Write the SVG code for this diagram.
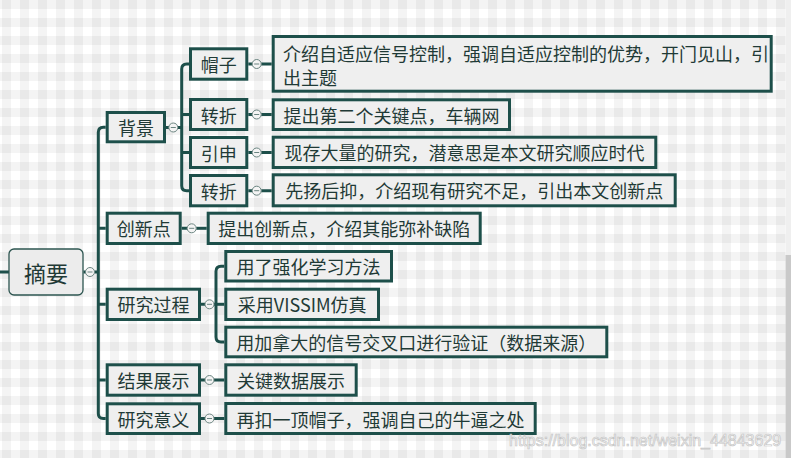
<svg xmlns="http://www.w3.org/2000/svg" width="791" height="458" viewBox="0 0 791 458">
<defs>
<pattern id="bg" patternUnits="userSpaceOnUse" x="2" y="0" width="18" height="18">
<rect width="18" height="18" fill="#ffffff"/>
<rect x="0" y="0" width="9" height="18" fill="#000" fill-opacity="0.045"/>
<rect x="0" y="0" width="18" height="9" fill="#000" fill-opacity="0.045"/>
</pattern>
</defs>
<style>
.box{fill:#efefef;stroke:#1d4f4a;stroke-width:3}
.root{fill:#ececec;stroke:#2d5550;stroke-width:1.3}
.t{font-family:"Noto Sans CJK SC","Microsoft YaHei",sans-serif;font-size:18px;fill:#1f3a36;text-anchor:middle;dominant-baseline:central}
.tl{text-anchor:start}
.c{fill:none;stroke:#1d4f4a;stroke-width:3}
.tg circle{fill:#f4f4f4;stroke:#6b8581;stroke-width:1}
.tg path{stroke:#6b8581;stroke-width:1}
</style>
<rect width="791" height="458" fill="url(#bg)"/>
<rect x="785.5" y="0" width="5.5" height="255" fill="#efefef"/>
<rect x="785.5" y="255" width="5.5" height="203" fill="#c9c9c9"/>

<g id="connectors">
<path class="c" d="M0,272 H9"/>
<path class="c" d="M83.5,272 H86"/>
<path class="c" d="M94.5,272 H98.3"/>
<path class="c" d="M105.7,127.2 H103.3 Q98.3,127.2 98.3,132.2 V413.5 Q98.3,418.5 103.3,418.5 H105.7"/>
<path class="c" d="M98.3,228.3 H105.7 M98.3,304.3 H105.7 M98.3,380 H105.7"/>
<path class="c" d="M166,127.5 H169 M181.7,228.3 H187.2 M201,304.3 H205 M201,380 H205 M201,418.5 H205"/>
<path class="c" d="M177.8,127.5 H181.7"/>
<path class="c" d="M189,64 H186.7 Q181.7,64 181.7,69 V185.7 Q181.7,190.7 186.7,190.7 H189"/>
<path class="c" d="M181.7,114.5 H189 M181.7,152.5 H189"/>
<path class="c" d="M248.3,64 H252.2 M248.3,114.5 H252.2 M248.3,152.5 H252.2 M248.3,190.7 H252.2"/>
<path class="c" d="M261.2,64 H271.7 M261.2,114.5 H271.7 M261.2,152.5 H271.7 M261.2,190.7 H271.7"/>
<path class="c" d="M196.2,228.3 H206.7"/>
<path class="c" d="M214,304.3 H224.3"/>
<path class="c" d="M224.3,266.3 H221 Q216,266.3 216,271.3 V337 Q216,342 221,342 H224.3"/>
<path class="c" d="M214,380 H224.3 M214,418.5 H224.3"/>
</g>

<g id="toggles" class="tg">
<circle cx="90" cy="272" r="4.5"/><path d="M87.5,272 H92.5"/>
<circle cx="173.3" cy="127.5" r="4.5"/><path d="M170.8,127.5 H175.8"/>
<circle cx="191.7" cy="228.3" r="4.5"/><path d="M189.2,228.3 H194.2"/>
<circle cx="209.5" cy="304.3" r="4.5"/><path d="M207,304.3 H212"/>
<circle cx="209.5" cy="380" r="4.5"/><path d="M207,380 H212"/>
<circle cx="209.5" cy="418.5" r="4.5"/><path d="M207,418.5 H212"/>
<circle cx="256.7" cy="64" r="4.5"/><path d="M254.2,64 H259.2"/>
<circle cx="256.7" cy="114.5" r="4.5"/><path d="M254.2,114.5 H259.2"/>
<circle cx="256.7" cy="152.5" r="4.5"/><path d="M254.2,152.5 H259.2"/>
<circle cx="256.7" cy="190.7" r="4.5"/><path d="M254.2,190.7 H259.2"/>
</g>

<g id="root"><rect class="root" x="9" y="249" width="74" height="46" rx="5"/><text class="t" x="46" y="272" style="font-size:22px">摘要</text></g>

<g id="n-beijing"><rect class="box" x="107.2" y="112.5" width="57.3" height="29.3"/><text class="t" x="135.9" y="127.2">背景</text></g>
<g id="n-chuangxin"><rect class="box" x="107.2" y="213.2" width="73" height="30.3"/><text class="t" x="143.7" y="228.3">创新点</text></g>
<g id="n-guocheng"><rect class="box" x="107.2" y="289.2" width="92.3" height="30.3"/><text class="t" x="153.4" y="304.3">研究过程</text></g>
<g id="n-jieguo"><rect class="box" x="107.2" y="364.8" width="92.3" height="30.4"/><text class="t" x="153.4" y="380">结果展示</text></g>
<g id="n-yiyi"><rect class="box" x="107.2" y="403.8" width="92.3" height="29.7"/><text class="t" x="153.4" y="418.6">研究意义</text></g>

<g id="n-maozi"><rect class="box" x="190.5" y="48.8" width="56.3" height="30.4"/><text class="t" x="218.7" y="64">帽子</text></g>
<g id="n-zhuanzhe1"><rect class="box" x="190.5" y="99.5" width="56.3" height="30"/><text class="t" x="218.7" y="114.5">转折</text></g>
<g id="n-yinshen"><rect class="box" x="190.5" y="137.5" width="56.3" height="30"/><text class="t" x="218.7" y="152.5">引申</text></g>
<g id="n-zhuanzhe2"><rect class="box" x="190.5" y="175.5" width="56.3" height="30.3"/><text class="t" x="218.7" y="190.7">转折</text></g>

<g id="c-maozi"><rect class="box" x="273.2" y="36.5" width="498" height="54.7"/><text class="t tl" x="283" y="52.5">介绍自适应信号控制，强调自适应控制的优势，开门见山，引</text><text class="t tl" x="283" y="76.5">出主题</text></g>
<g id="c-zhuanzhe1"><rect class="box" x="273.2" y="99.8" width="236.3" height="29.7"/><text class="t" x="391.4" y="114.7">提出第二个关键点，车辆网</text></g>
<g id="c-yinshen"><rect class="box" x="273.2" y="137.2" width="382.6" height="30.3"/><text class="t" x="464.5" y="152.4">现存大量的研究，潜意思是本文研究顺应时代</text></g>
<g id="c-zhuanzhe2"><rect class="box" x="273.2" y="174.8" width="402" height="31"/><text class="t" x="474.2" y="190.3">先扬后抑，介绍现有研究不足，引出本文创新点</text></g>
<g id="c-chuangxin"><rect class="box" x="208.2" y="213.2" width="272" height="30.3"/><text class="t" x="344.2" y="228.3">提出创新点，介绍其能弥补缺陷</text></g>
<g id="c-qianghua"><rect class="box" x="225.8" y="251.5" width="165.7" height="29.5"/><text class="t" x="308.6" y="266.3">用了强化学习方法</text></g>
<g id="c-vissim"><rect class="box" x="225.8" y="289.2" width="152.7" height="30.3"/><text class="t" x="302.2" y="304.3">采用VISSIM仿真</text></g>
<g id="c-jianada"><rect class="box" x="225.8" y="327.2" width="381" height="29.6"/><text class="t" x="416.3" y="342">用加拿大的信号交叉口进行验证（数据来源）</text></g>
<g id="c-shuju"><rect class="box" x="225.8" y="364.8" width="130.4" height="30.4"/><text class="t" x="291" y="380">关键数据展示</text></g>
<g id="c-maozi2"><rect class="box" x="225.8" y="403.5" width="309.4" height="30"/><text class="t" x="380.5" y="418.5">再扣一顶帽子，强调自己的牛逼之处</text></g>

<text x="509" y="446" style="font-family:'Liberation Sans',Arial,sans-serif;font-size:16px;fill:#ffffff;fill-opacity:0.8;stroke:#c4c4c4;stroke-width:0.7">https://blog.csdn.net/weixin_44843629</text>
</svg>
